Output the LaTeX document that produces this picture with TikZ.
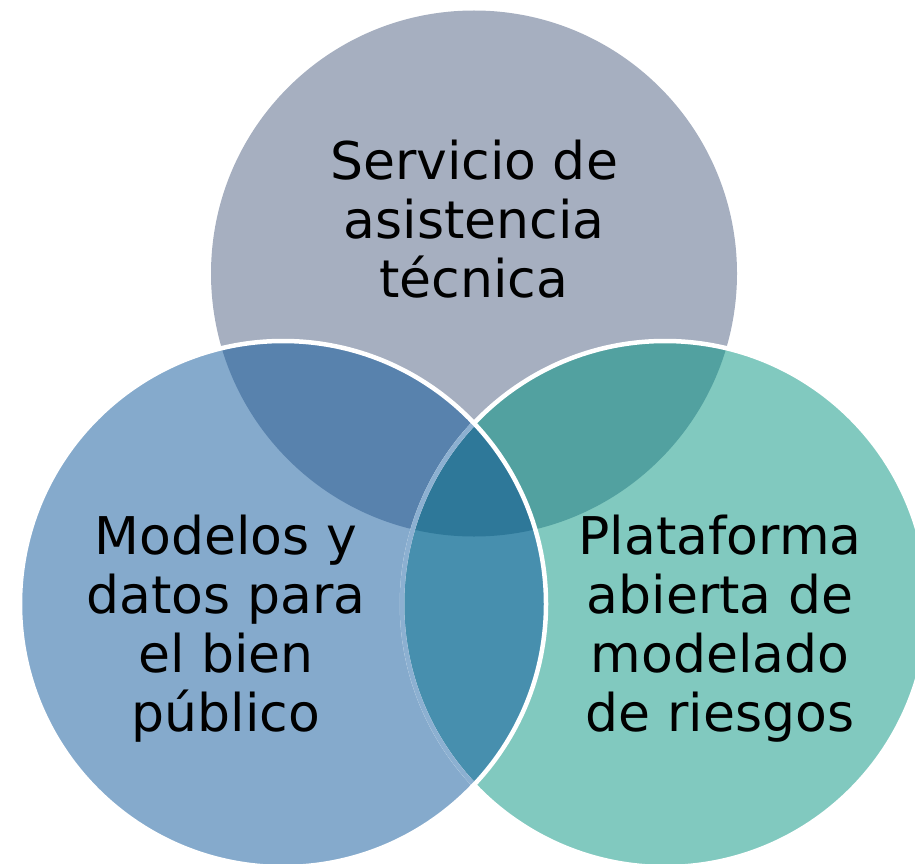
\documentclass[tikz,border=0pt]{standalone}
\usepackage{fontspec}
\setmainfont{DejaVu Sans}
\definecolor{topc}{HTML}{A6AFC0}
\definecolor{leftc}{HTML}{85AACC}
\definecolor{rightc}{HTML}{81C9BF}
\definecolor{tlc}{HTML}{5882AD}
\definecolor{trc}{HTML}{52A1A0}
\definecolor{lrc}{HTML}{478FAE}
\definecolor{tlrc}{HTML}{2E7899}
\definecolor{hidec}{HTML}{8CB0D1}
\tikzset{
  lbl/.style={anchor=base, inner sep=0pt, font=\fontsize{52}{59}\selectfont, text=black},
  rim/.style={line width=4.5pt}
}
\begin{document}
\begin{tikzpicture}[x=1pt,y=-1pt]
\useasboundingbox (0,0) rectangle (915,864);
\coordinate (T) at (474,273.5);
\coordinate (L) at (283,604);
\coordinate (R) at (665,604);
\def\rr{263pt}
% solo fills
\fill[topc] (T) circle[radius=\rr];
\fill[leftc] (L) circle[radius=\rr];
\fill[rightc] (R) circle[radius=\rr];
% pairwise
\begin{scope}
  \clip (T) circle[radius=\rr];
  \fill[tlc] (L) circle[radius=\rr];
  \fill[trc] (R) circle[radius=\rr];
\end{scope}
\begin{scope}
  \clip (L) circle[radius=\rr];
  \fill[lrc] (R) circle[radius=\rr];
  \clip (T) circle[radius=\rr];
  \fill[tlrc] (R) circle[radius=\rr];
\end{scope}
% outlines
\draw[rim, white] (R) circle[radius=\rr];
\begin{scope}
  \clip (L) circle[radius=\rr];
  \draw[rim, hidec] (R) circle[radius=\rr];
\end{scope}
\draw[rim, white] (L) circle[radius=\rr];
% labels
\node[lbl] (t1) at (474,179) {Servicio de};
\node[lbl] (t2) at (474,238) {asistencia};
\node[lbl] (t3) at (474,297) {técnica};
\node[lbl] (l1) at (226,554) {Modelos y};
\node[lbl] (l2) at (226,613) {datos para};
\node[lbl] (l3) at (226,672) {el bien};
\node[lbl] (l4) at (226,731) {público};
\node[lbl] (r1) at (720,554) {Plataforma};
\node[lbl] (r2) at (720,613) {abierta de};
\node[lbl] (r3) at (720,672) {modelado};
\node[lbl] (r4) at (720,731) {de riesgos};
\end{tikzpicture}
\end{document}
